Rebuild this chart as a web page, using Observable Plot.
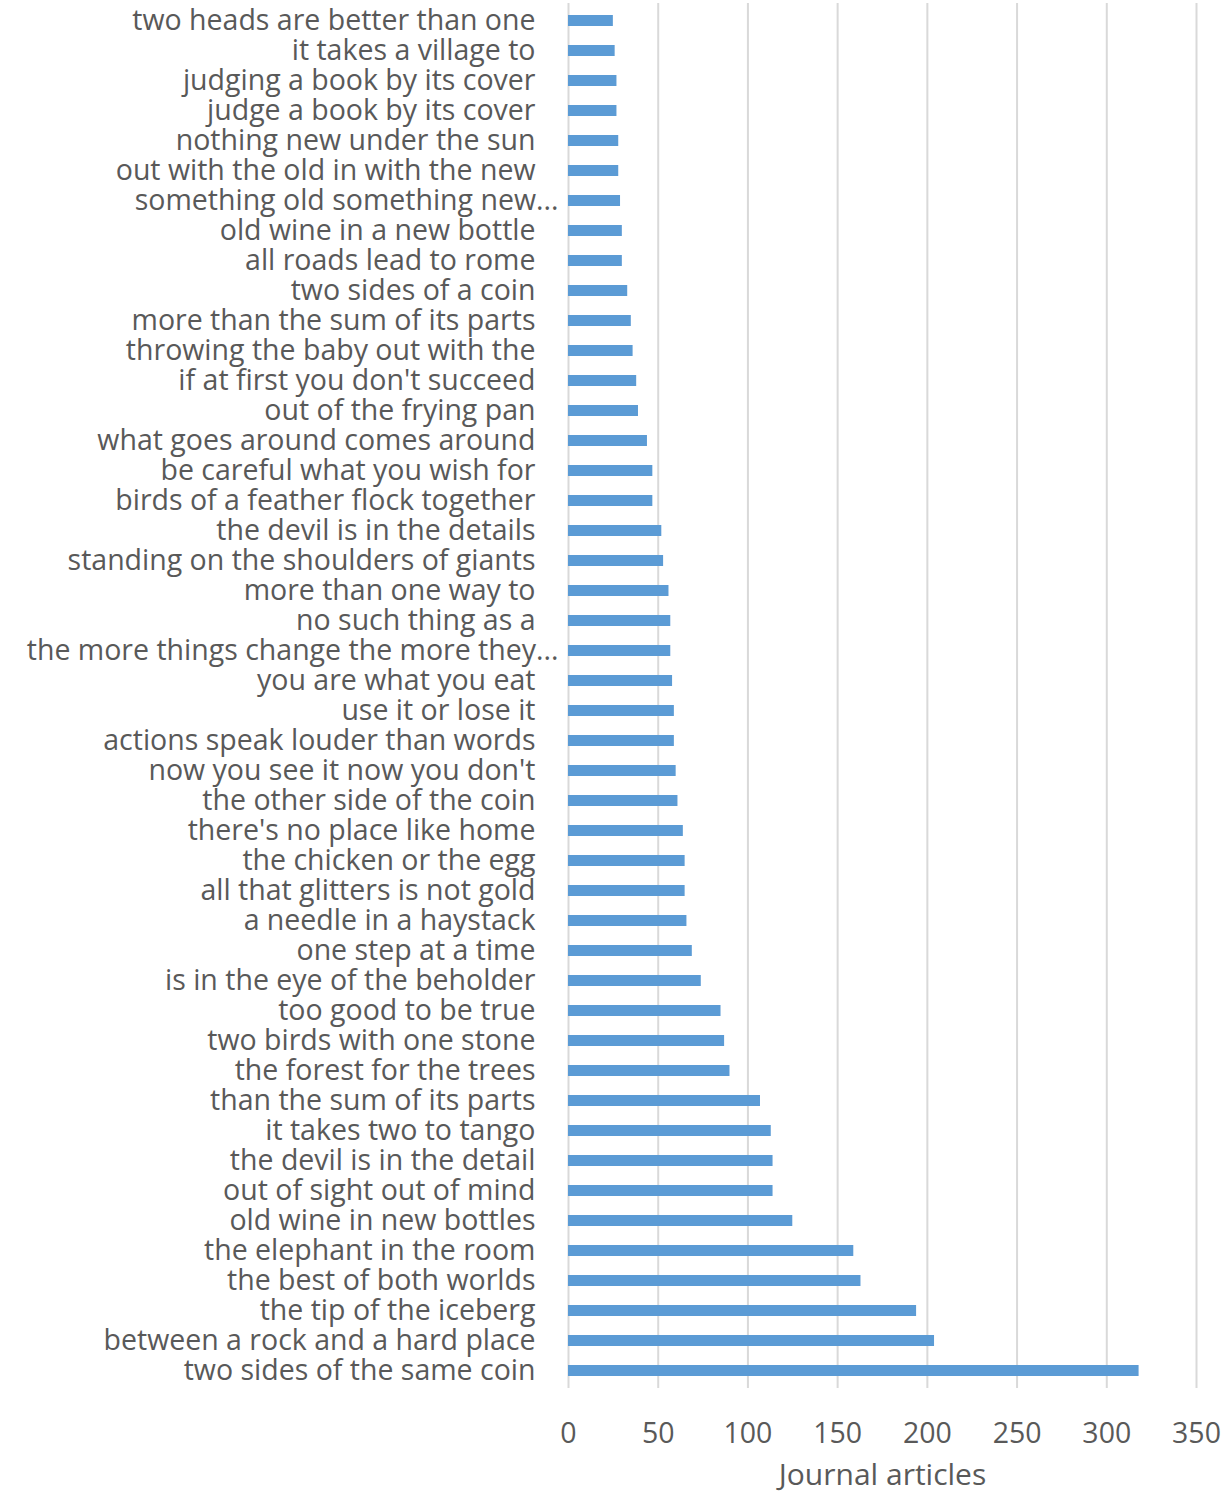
<!DOCTYPE html>
<html><head><meta charset="utf-8">
<script src="https://cdn.jsdelivr.net/npm/d3@7"></script>
<script src="https://cdn.jsdelivr.net/npm/@observablehq/plot@0.6"></script>
<style>body{margin:0;background:#fff;}</style>
</head><body><div id="chart"></div>
<script>
const phrases = [
  "two heads are better than one",
  "it takes a village to",
  "judging a book by its cover",
  "judge a book by its cover",
  "nothing new under the sun",
  "out with the old in with the new",
  "something old something new...",
  "old wine in a new bottle",
  "all roads lead to rome",
  "two sides of a coin",
  "more than the sum of its parts",
  "throwing the baby out with the",
  "if at first you don't succeed",
  "out of the frying pan",
  "what goes around comes around",
  "be careful what you wish for",
  "birds of a feather flock together",
  "the devil is in the details",
  "standing on the shoulders of giants",
  "more than one way to",
  "no such thing as a",
  "the more things change the more they...",
  "you are what you eat",
  "use it or lose it",
  "actions speak louder than words",
  "now you see it now you don't",
  "the other side of the coin",
  "there's no place like home",
  "the chicken or the egg",
  "all that glitters is not gold",
  "a needle in a haystack",
  "one step at a time",
  "is in the eye of the beholder",
  "too good to be true",
  "two birds with one stone",
  "the forest for the trees",
  "than the sum of its parts",
  "it takes two to tango",
  "the devil is in the detail",
  "out of sight out of mind",
  "old wine in new bottles",
  "the elephant in the room",
  "the best of both worlds",
  "the tip of the iceberg",
  "between a rock and a hard place",
  "two sides of the same coin"
];
const articles = [
  25, 26, 27, 27, 28, 28, 29, 30, 30, 33,
  35, 36, 38, 39, 44, 47, 47, 52, 53, 56,
  57, 57, 58, 59, 59, 60, 61, 64, 65, 65,
  66, 69, 74, 85, 87, 90, 107, 113, 114, 114,
  125, 159, 163, 194, 204, 318
];
const xTicks = [0, 50, 100, 150, 200, 250, 300, 350];
const xLabel = "Journal articles";

const data = phrases.map((p, i) => ({phrase: p, count: articles[i]}));
const fullLabels = phrases.filter(p => !p.endsWith("..."));
const cutLabels = phrases.filter(p => p.endsWith("..."));

const chart = Plot.plot({
  width: 1226,
  height: 1497,
  marginLeft: 568,
  marginRight: 30,
  marginTop: 3,
  marginBottom: 109,
  style: {fontFamily: "'Open Sans', sans-serif", fontSize: "28.5px", color: "#595959", background: "#fff"},
  x: {domain: [0, 350]},
  y: {domain: phrases, paddingInner: 0.65, paddingOuter: 0.325},
  marks: [
    Plot.gridX(xTicks, {stroke: "#d9d9d9", strokeOpacity: 1, strokeWidth: 2}),
    Plot.barX(data, {x: "count", y: "phrase", fill: "#5b9bd5"}),
    Plot.axisY(fullLabels, {tickSize: 0, tickPadding: 33, label: null}),
    Plot.axisY(cutLabels, {tickSize: 0, tickPadding: 10, label: null}),
    Plot.axisX(xTicks, {tickSize: 0, tickPadding: 34, label: null}),
    Plot.axisX({ticks: [], tickSize: 0, label: xLabel, labelAnchor: "center", labelOffset: 96, labelArrow: "none", fontSize: 30})
  ]
});
document.getElementById("chart").append(chart);
</script>
</body></html>
